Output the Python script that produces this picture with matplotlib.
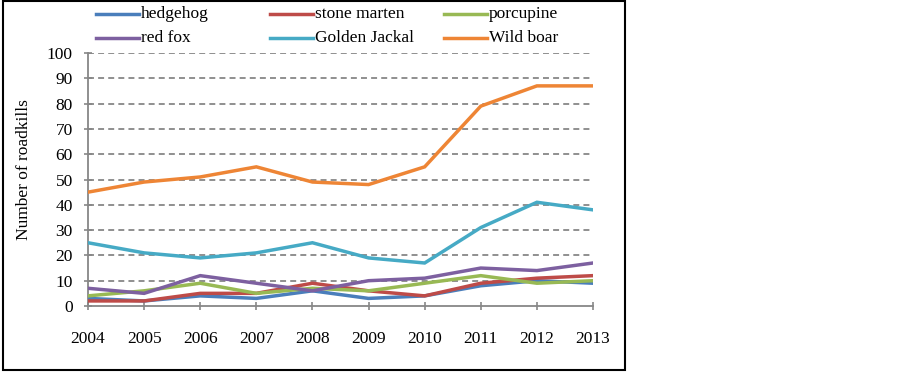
import matplotlib
matplotlib.use("Agg")
import matplotlib.pyplot as plt
from matplotlib.lines import Line2D
from matplotlib.patches import Rectangle

years = [2004, 2005, 2006, 2007, 2008, 2009, 2010, 2011, 2012, 2013]
hedgehog = [3, 2, 4, 3, 6, 3, 4, 8, 10, 9]
stone_marten = [2, 2, 5, 5, 9, 6, 4, 9, 11, 12]
porcupine = [4, 6, 9, 5, 7, 6, 9, 12, 9, 10]
red_fox = [7, 5, 12, 9, 6, 10, 11, 15, 14, 17]
golden_jackal = [25, 21, 19, 21, 25, 19, 17, 31, 41, 38]
wild_boar = [45, 49, 51, 55, 49, 48, 55, 79, 87, 87]

series_names = ["hedgehog", "stone marten", "porcupine",
                "red fox", "Golden Jackal", "Wild boar"]
series_values = [hedgehog, stone_marten, porcupine,
                 red_fox, golden_jackal, wild_boar]
colors = ["#4A7EBB", "#BE4B48", "#98B954", "#7D60A0", "#46AAC5", "#EE8535"]
y_ticks = list(range(0, 101, 10))

plt.rcParams['font.family'] = ['Liberation Serif', 'DejaVu Serif']

W, H = 903, 376
fig = plt.figure(figsize=(W / 100, H / 100), dpi=100)

def fx(px):
    return px / W

def fy(py):
    return 1 - py / H

ax = fig.add_axes([fx(88), fy(306), fx(593) - fx(88), fy(53) - fy(306)])

for name, vals, c in zip(series_names, series_values, colors):
    ax.plot(years, vals, color=c, lw=2.5, solid_joinstyle='miter', zorder=3)

ax.set_xlim(years[0], years[-1])
ax.set_ylim(0, 100)
ax.set_xticks(years)
ax.set_xticklabels([str(y) for y in years])
ax.set_yticks(y_ticks)
ax.set_yticklabels([str(v) for v in y_ticks])

for v in y_ticks[1:]:
    ax.axhline(v, color="#878787", lw=1.3, ls=(0, (3.3, 2.3)), zorder=1)

for s in ['top', 'right']:
    ax.spines[s].set_visible(False)
for s in ['left', 'bottom']:
    ax.spines[s].set_color("#878787")
    ax.spines[s].set_linewidth(1.3)
ax.spines['bottom'].set_zorder(4)

ax.tick_params(axis='both', direction='inout', length=6, width=1.2,
               color="#878787", labelsize=12.5)
ax.tick_params(axis='x', pad=15)
ax.tick_params(axis='y', pad=8)
ax.set_ylabel("Number of roadkills", fontsize=12.5)
ax.yaxis.set_label_coords((32 - 88) / (593 - 88), (306 - 170) / (306 - 53))

# legend (manual layout)
col_x = [96, 270, 444]
row_y = [14, 38]
for i, (name, c) in enumerate(zip(series_names, colors)):
    r, k = divmod(i, 3)
    x0 = col_x[k]
    y0 = row_y[r]
    fig.add_artist(Line2D([fx(x0), fx(x0 + 43)], [fy(y0), fy(y0)],
                          color=c, lw=2.5, transform=fig.transFigure))
    fig.text(fx(x0 + 45), fy(y0), name, fontsize=12.5, va='center', ha='left')

# outer border
fig.add_artist(Rectangle((fx(3), fy(370)), fx(625) - fx(3), fy(1) - fy(370),
                         transform=fig.transFigure, fill=False,
                         edgecolor='black', lw=1.5))

fig.savefig("out.png", dpi=100)
